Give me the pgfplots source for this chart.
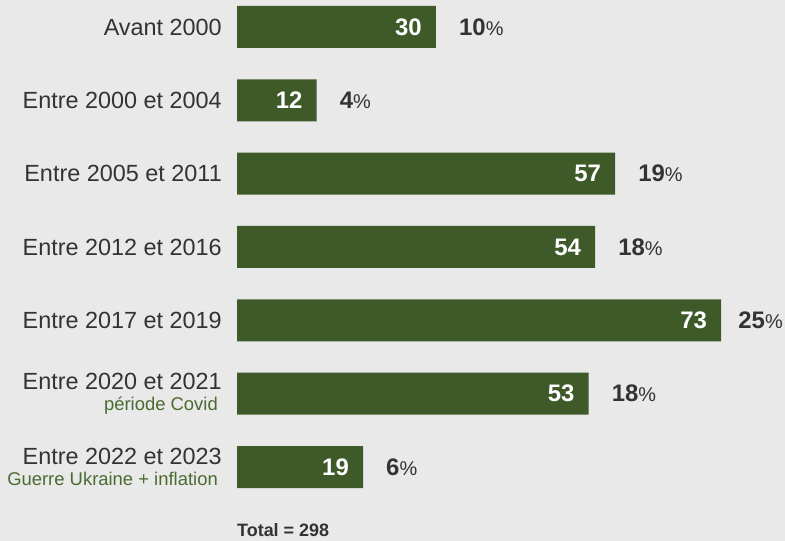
\documentclass[border=0pt]{standalone}
\usepackage{pgfplots}
\pgfplotsset{compat=1.18}
\usepackage{pgfplotstable}
\usepackage{fontspec}
\setmainfont{Liberation Sans}
\definecolor{bg}{HTML}{E8E9E8}
\definecolor{barc}{HTML}{3E5A29}
\definecolor{txt}{HTML}{333333}
\definecolor{subc}{HTML}{4B6B31}

\pgfplotstableread{
y v p g
0 30 10 23
1 12 4 23
2 57 19 23
3 54 18 23
4 73 25 17
5 53 18 23
6 19 6 23
}\data

\newcommand{\subl}[1]{{\color{subc}\fontsize{18.5}{20}\selectfont #1}\rule{4bp}{0pt}}

\begin{document}
\begin{tikzpicture}[x=1bp,y=1bp]
\fill[bg] (0,0) rectangle (785,541);
\begin{axis}[
  at={(237bp,0bp)}, anchor=south west,
  scale only axis, width=548bp, height=541bp,
  xmin=0, xmax=82.62, ymin=-0.368, ymax=7.009, y dir=reverse,
  axis line style={draw=none},
  xtick=\empty, ytick={0,...,6}, major tick length=0pt,
  yticklabels={Avant 2000, Entre 2000 et 2004, Entre 2005 et 2011, Entre 2012 et 2016, Entre 2017 et 2019,
    {Entre 2020 et 2021\\\subl{période Covid}},
    {Entre 2022 et 2023\\\subl{Guerre Ukraine + inflation}}},
  yticklabel style={font=\fontsize{23.5}{21}\selectfont, text=txt, align=right, inner sep=0pt, xshift=-15bp},
  clip=false,
]
\addplot[xbar, bar width=42bp, bar shift=0pt, fill=barc, draw=none,
  point meta=explicit symbolic,
  nodes near coords={\pgfplotspointmeta},
  nodes near coords style={anchor=east, text=white, font=\fontsize{24}{24}\selectfont\bfseries, xshift=-14bp, inner sep=0pt}]
  table[x=v,y=y,meta=v]{\data};
\addplot[draw=none, mark=none, point meta=explicit symbolic,
  visualization depends on={\thisrow{g}\as\gap},
  nodes near coords={\textbf{\pgfplotspointmeta}{\fontsize{20}{20}\selectfont\%}},
  nodes near coords style={anchor=west, text=txt, font=\fontsize{24}{24}\selectfont, xshift=\gap bp, inner sep=0pt}]
  table[x=v,y=y,meta=p]{\data};
\end{axis}
\node[anchor=base west, inner sep=0pt, font=\fontsize{18}{18}\selectfont\bfseries, text=txt] at (237,4) {Total = 298};
\pgfresetboundingbox
\path[use as bounding box] (0,0) rectangle (785,541);
\end{tikzpicture}
\end{document}
